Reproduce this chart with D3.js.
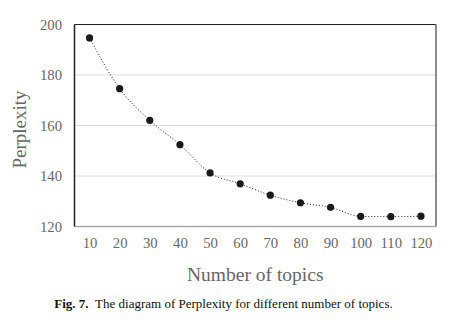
<!DOCTYPE html>
<html>
<head>
<meta charset="utf-8">
<script src="https://cdn.jsdelivr.net/npm/d3@7"></script>
<style>
  html, body { margin: 0; padding: 0; background: #fff; }
  svg { display: block; }
</style>
</head>
<body>
<svg id="chart" width="460" height="322"></svg>
<script>
// Perplexity of the topic model for each number of topics
const topics = [10, 20, 30, 40, 50, 60, 70, 80, 90, 100, 110, 120];
const perplexity = [194.7, 174.6, 162.0, 152.4, 141.2, 136.9, 132.4, 129.4, 127.6, 124.0, 123.9, 124.1];
const yTicks = [120, 140, 160, 180, 200];
const xTitle = "Number of topics";
const yTitle = "Perplexity";

const svg = d3.select("#chart");
const margin = { left: 74.5, right: 24, top: 24.5, bottom: 95.5 };
const W = 460, H = 322;
const plotW = W - margin.left - margin.right;
const plotH = H - margin.top - margin.bottom;

const x = d3.scalePoint()
  .domain(topics)
  .range([margin.left, margin.left + plotW])
  .padding(0.5);

const y = d3.scaleLinear()
  .domain([120, 200])
  .range([margin.top + plotH, margin.top]);

const serif = "'Liberation Serif', 'Times New Roman', serif";

// horizontal gridlines
svg.append("g")
  .selectAll("line")
  .data(yTicks.filter(d => d > 120 && d < 200))
  .join("line")
  .attr("x1", margin.left)
  .attr("x2", margin.left + plotW)
  .attr("y1", d => y(d))
  .attr("y2", d => y(d))
  .attr("stroke", "#dcdcdc")
  .attr("stroke-width", 1);

// frame: dark left/top, grey right/bottom
svg.append("line")
  .attr("x1", margin.left).attr("x2", margin.left + plotW)
  .attr("y1", y(200)).attr("y2", y(200))
  .attr("stroke", "#222").attr("stroke-width", 1.2);
svg.append("line")
  .attr("x1", margin.left + plotW).attr("x2", margin.left + plotW)
  .attr("y1", y(200)).attr("y2", y(120))
  .attr("stroke", "#666").attr("stroke-width", 1.5);
svg.append("line")
  .attr("x1", margin.left).attr("x2", margin.left + plotW)
  .attr("y1", y(120)).attr("y2", y(120))
  .attr("stroke", "#aaa").attr("stroke-width", 1.5);
svg.append("line")
  .attr("x1", margin.left).attr("x2", margin.left)
  .attr("y1", y(200)).attr("y2", y(120))
  .attr("stroke", "#222").attr("stroke-width", 1.5);

// y axis labels
const yAxis = svg.append("g")
  .attr("transform", `translate(${margin.left},0)`)
  .call(d3.axisLeft(y).tickValues(yTicks).tickSize(0).tickPadding(12.5));
yAxis.select(".domain").remove();
yAxis.selectAll("text")
  .attr("font-family", serif)
  .attr("font-size", 14.7)
  .attr("fill", "#666");

// x axis labels
const xAxis = svg.append("g")
  .attr("transform", `translate(0,${y(120)})`)
  .call(d3.axisBottom(x).tickSize(0).tickPadding(11));
xAxis.select(".domain").remove();
xAxis.selectAll("text")
  .attr("font-family", serif)
  .attr("font-size", 14.7)
  .attr("fill", "#666");

// dotted connecting line
const pts = topics.map((t, i) => [t, perplexity[i]]);
svg.append("path")
  .datum(pts)
  .attr("fill", "none")
  .attr("stroke", "#222")
  .attr("stroke-width", 1)
  .attr("stroke-dasharray", "1,2")
  .attr("d", d3.line().x(d => x(d[0])).y(d => y(d[1])).curve(d3.curveMonotoneX));

// markers
svg.append("g")
  .selectAll("circle")
  .data(pts)
  .join("circle")
  .attr("cx", d => x(d[0]))
  .attr("cy", d => y(d[1]))
  .attr("r", 3.6)
  .attr("fill", "#1a1a1a");

// axis titles
svg.append("text")
  .attr("x", margin.left + plotW / 2)
  .attr("y", 281)
  .attr("text-anchor", "middle")
  .attr("font-family", serif)
  .attr("font-size", 19.5)
  .attr("fill", "#666")
  .text(xTitle);

svg.append("text")
  .attr("transform", `translate(26,${margin.top + plotH / 2 + 4}) rotate(-90)`)
  .attr("text-anchor", "middle")
  .attr("font-family", serif)
  .attr("font-size", 19)
  .attr("fill", "#666")
  .text(yTitle);

// figure caption
const cap = svg.append("text")
  .attr("x", 223.5)
  .attr("y", 308)
  .attr("text-anchor", "middle")
  .attr("font-family", serif)
  .attr("font-size", 13)
  .attr("fill", "#111");
cap.append("tspan").attr("font-weight", "bold").text("Fig. 7.");
cap.append("tspan").text("\u2002The diagram of Perplexity for different number of topics.");
</script>
</body>
</html>
